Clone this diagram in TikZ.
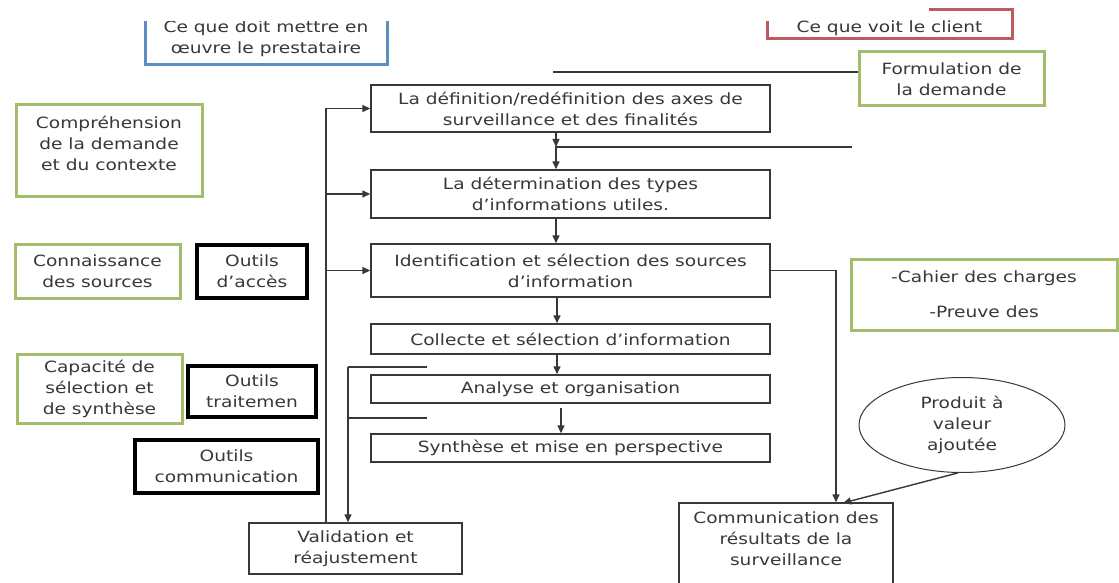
\documentclass[tikz,border=0pt]{standalone}
\usepackage{fontspec}
\setmainfont{DejaVu Sans}[FakeStretch=1.2]
\usetikzlibrary{arrows.meta,shapes.geometric}
\definecolor{ink}{HTML}{383838}
\definecolor{txt}{HTML}{383838}
\definecolor{boxgreen}{HTML}{A3BD6A}
\definecolor{boxblue}{HTML}{5F8DC0}
\definecolor{boxred}{HTML}{C05A5E}
\begin{document}
\begin{tikzpicture}[x=1pt,y=-1pt,
  font=\fontsize{15.5}{21}\selectfont,
  every node/.style={text=txt, align=center, inner sep=0pt},
  stepbox/.style={draw=ink, line width=1.4pt, minimum width=399pt},
  plainbox/.style={draw=ink, line width=1.4pt},
  greenbox/.style={draw=boxgreen, line width=3pt},
  toolbox/.style={draw=black, line width=3.8pt},
  wire/.style={draw=ink, line width=1.4pt},
  tip/.style={-{Triangle[length=8pt,width=7pt]}}]
\useasboundingbox (0,0) rectangle (1119,583);
\clip (0,0) rectangle (1119,583);
\fill[white] (0,0) rectangle (1119,583);

% header boxes (their top edges run under the page's white band)
\node[draw=boxblue, line width=3pt, minimum width=242pt, minimum height=53pt]
  (provider) at (266,38.5) {Ce que doit mettre en\\œuvre le prestataire};
\node[draw=boxred, line width=3pt, minimum width=245pt, minimum height=29pt]
  (client) at (889.5,24.5) {};
\fill[white] (0,0) rectangle (929,21);
\node (clienttxt) at (889.5,28.5) {Ce que voit le client};

% main process column
\node[stepbox, minimum height=47pt] (box1) at (570.5,108.5)
  {La définition/redéfinition des axes de\\surveillance et des finalités};
\node[stepbox, minimum height=48pt] (box2) at (570.5,194)
  {La détermination des types\\d’informations utiles.};
\node[stepbox, minimum height=53pt] (box3) at (570.5,270.5)
  {Identification et sélection des sources\\d’information};
\node[stepbox, minimum height=30pt] (box4) at (570.5,339)
  {Collecte et sélection d’information};
\node[stepbox, minimum height=28pt] (box5) at (570.5,389)
  {Analyse et organisation};
\node[stepbox, minimum height=28pt] (box6) at (570.5,448)
  {Synthèse et mise en perspective};

% competences (green) and tools (black)
\node[greenbox, minimum width=186pt, minimum height=91pt] (comp) at (109,150.5)
  {Compréhension\\de la demande\\et du contexte\\[-6pt]~};
\node[greenbox, minimum width=165pt, minimum height=54pt] (conn) at (97.5,271)
  {Connaissance\\des sources};
\node[greenbox, minimum width=165pt, minimum height=69pt] (cap) at (99.5,388.5)
  {Capacité de\\sélection et\\de synthèse};
\node[toolbox, minimum width=110pt, minimum height=53pt] (acc) at (252,271.5)
  {Outils\\d’accès};
\node[toolbox, minimum width=128pt, minimum height=51pt] (trait) at (252,391.5)
  {Outils\\traitemen};
\node[toolbox, minimum width=183pt, minimum height=53pt] (commtools) at (226.5,466.5)
  {Outils\\communication};

% client side
\node[greenbox, minimum width=185pt, minimum height=54pt] (form) at (951.5,79)
  {Formulation de\\la demande};
\node[greenbox, minimum width=266pt, minimum height=71pt] (cahier) at (984,294.5)
  {-Cahier des charges\\[14pt]-Preuve des};
\node[draw=ink, line width=1pt, ellipse, minimum width=206pt, minimum height=95pt]
  (prod) at (962,425) {Produit à\\valeur\\ajoutée};

% outputs
\node[plainbox, minimum width=213pt, minimum height=51pt] (val) at (355.5,548.5)
  {Validation et\\réajustement};
\node[plainbox, minimum width=214pt, minimum height=93pt] (res) at (786,549.5)
  {Communication des\\résultats de la\\surveillance\\~};

% helper coordinates
\coordinate (ox) at (326,0);
\coordinate (ix) at (348,0);
\coordinate (cx) at (556,0);
\coordinate (rx) at (836,0);
\coordinate (fl) at (553,72);
\coordinate (j1) at (556,147);
\coordinate (e2) at (852,147);
\coordinate (a1) at (427,367);
\coordinate (a2) at (427,418);
\coordinate (s6) at (561,408);
\coordinate (rin) at (843,503);

% request line and second input line
\draw[wire] (fl) -- (fl -| form.west);
\draw[wire,tip] (cx |- box1.south) -- (j1);
\draw[wire,tip] (e2) -- (j1) -- (cx |- box2.north);

% flow down the column
\draw[wire,tip] (cx |- box2.south) -- (cx |- box3.north);
\draw[wire,tip] ([xshift=1pt]cx |- box3.south) -- ([xshift=1pt]cx |- box4.north);
\draw[wire,tip] ([xshift=1pt]cx |- box4.south) -- ([xshift=1pt]cx |- box5.north);
\draw[wire,tip] (s6) -- (s6 |- box6.north);

% outer feedback loop from validation
\draw[wire] (ox |- val.north) -- (ox |- box1.west);
\draw[wire,tip] (ox |- box1.west) -- (box1.west);
\draw[wire,tip] (ox |- box2.west) -- (box2.west);
\draw[wire,tip] (ox |- box3.west) -- (box3.west);

% inner loop into validation
\draw[wire] (a1) -- (a1 -| ix);
\draw[wire] (a2) -- (a2 -| ix);
\draw[wire,tip] (a1 -| ix) -- (ix |- val.north);

% towards the communication of results
\draw[wire,tip] (box3.east) -- (rx |- box3.east) -- (rx |- res.north);
\draw[wire,tip] (prod.-95) -- (rin);
\end{tikzpicture}
\end{document}
